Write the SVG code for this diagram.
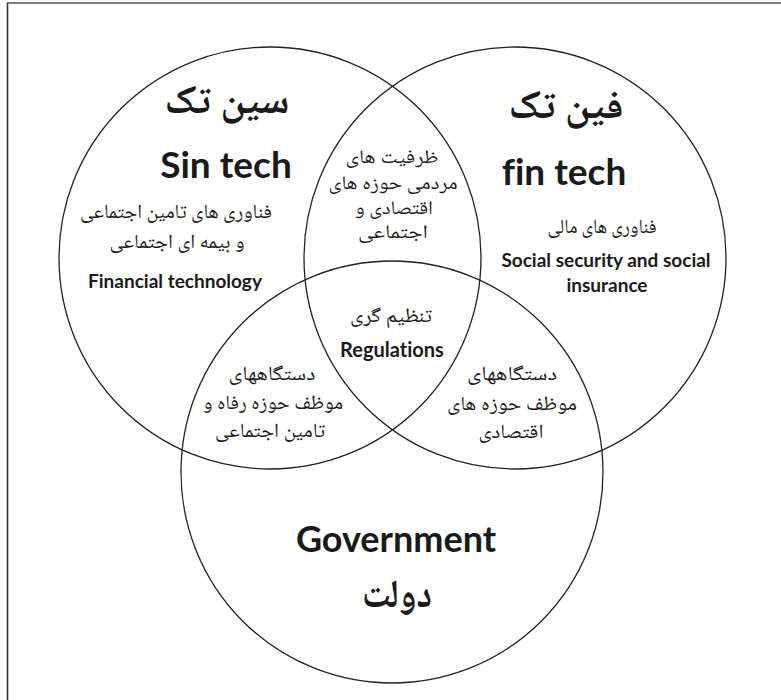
<svg xmlns="http://www.w3.org/2000/svg" width="781" height="700" viewBox="0 0 781 700">
<style>
.c{fill:none;stroke:#222;stroke-width:1.3}
.en{font-family:Lato,"Open Sans","Liberation Sans",sans-serif;font-weight:bold;fill:#1a1a1a;text-anchor:middle;font-variant-ligatures:none}
.fa{font-family:"Noto Naskh Arabic","Noto Sans Arabic","DejaVu Sans",sans-serif;fill:#1a1a1a;text-anchor:middle;direction:rtl;font-size:20px}
.sm{font-size:19px}
.fab{font-weight:bold;font-size:40px}
</style>
<rect width="781" height="700" fill="#fff"/>
<g id="frame">
<line x1="7" y1="3" x2="781" y2="3" stroke="#555" stroke-width="1.6"/>
<line x1="7.5" y1="3" x2="7.5" y2="700" stroke="#333" stroke-width="1.6"/>
</g>
<g id="connectors"></g>
<g id="sintech">
<circle class="c" cx="270" cy="258" r="211"/>
<text class="fa fab" x="227" y="113" textLength="125" lengthAdjust="spacingAndGlyphs">سین تک</text>
<text class="en" x="226" y="178" font-size="37">Sin tech</text>
<text class="fa" x="176" y="218" textLength="192" lengthAdjust="spacingAndGlyphs">فناوری های تامین اجتماعی</text>
<text class="fa" x="177" y="248" textLength="135" lengthAdjust="spacingAndGlyphs">و بیمه ای اجتماعی</text>
<text class="en" x="175" y="288" font-size="19">Financial technology</text>
</g>
<g id="fintech">
<circle class="c" cx="515" cy="258" r="211"/>
<text class="fa fab" x="566" y="118" textLength="115" lengthAdjust="spacingAndGlyphs">فین تک</text>
<text class="en" x="564" y="185" font-size="37">fin tech</text>
<text class="fa" x="602" y="233" textLength="109" lengthAdjust="spacingAndGlyphs">فناوری های مالی</text>
<text class="en" x="606" y="267" font-size="19">Social security and social</text>
<text class="en" x="607" y="292" font-size="19">insurance</text>
</g>
<g id="government">
<circle class="c" cx="392" cy="472" r="211"/>
<text class="en" x="396" y="552" font-size="36">Government</text>
<text class="fa fab" x="397" y="607" textLength="70" lengthAdjust="spacingAndGlyphs">دولت</text>
</g>
<g id="sin-fin">
<text class="fa sm" x="392" y="163" textLength="93" lengthAdjust="spacingAndGlyphs">ظرفیت های</text>
<text class="fa sm" x="393" y="189" textLength="129" lengthAdjust="spacingAndGlyphs">مردمی حوزه های</text>
<text class="fa sm" x="394" y="214" textLength="78" lengthAdjust="spacingAndGlyphs">اقتصادی و</text>
<text class="fa sm" x="393" y="238" textLength="70" lengthAdjust="spacingAndGlyphs">اجتماعی</text>
</g>
<g id="regulations">
<text class="fa" x="391" y="322" textLength="82" lengthAdjust="spacingAndGlyphs">تنظیم گری</text>
<text class="en" x="392" y="357" font-size="20">Regulations</text>
</g>
<g id="sin-gov">
<text class="fa" x="272" y="380" textLength="87" lengthAdjust="spacingAndGlyphs">دستگاههای</text>
<text class="fa" x="273" y="409" textLength="140" lengthAdjust="spacingAndGlyphs">موظف حوزه رفاه و</text>
<text class="fa" x="270" y="437" textLength="110" lengthAdjust="spacingAndGlyphs">تامین اجتماعی</text>
</g>
<g id="fin-gov">
<text class="fa" x="512" y="380" textLength="90" lengthAdjust="spacingAndGlyphs">دستگاههای</text>
<text class="fa" x="512" y="410" textLength="130" lengthAdjust="spacingAndGlyphs">موظف حوزه های</text>
<text class="fa" x="511" y="438" textLength="65" lengthAdjust="spacingAndGlyphs">اقتصادی</text>
</g>
</svg>
